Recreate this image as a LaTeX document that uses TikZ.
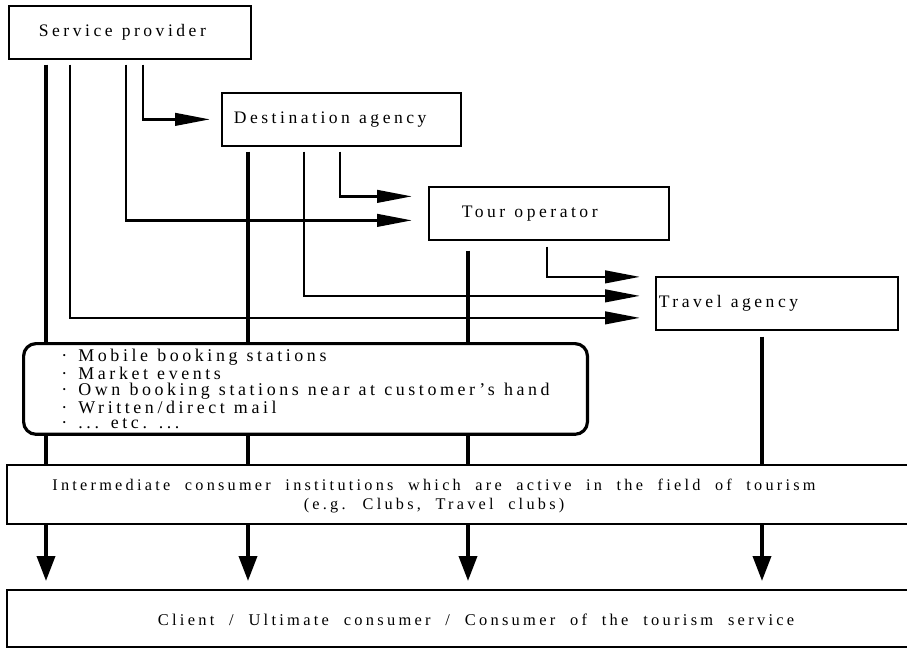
\documentclass[tikz,border=0pt]{standalone}
\usepackage{fontspec}
\setmainfont{Liberation Serif}[LetterSpace=20, WordSpace=2]
\usetikzlibrary{arrows.meta,backgrounds}

\tikzset{
  box/.style={draw, line width=1pt, fill=white, anchor=north west,
    minimum height=1.06cm, font=\fontsize{10}{12}\selectfont},
  listbox/.style={draw, line width=1.8pt, rounded corners=0.25cm, fill=white,
    anchor=north west, minimum width=11.28cm, minimum height=1.8cm,
    align=left, font=\fontsize{10.2}{8.6}\selectfont},
  widebox/.style={draw, line width=1pt, fill=white, anchor=north west,
    minimum width=18.2cm},
  flow/.style={line width=1.5pt, -{Triangle[length=0.7cm,width=0.25cm]},
    shorten <=0.1cm, shorten >=0.3cm},
  drop/.style={line width=2.1pt, -{Triangle[length=0.5cm,width=0.36cm]},
    shorten <=0.1cm, shorten >=0.16cm},
}
\newcommand{\dotitem}[1]{\makebox[0.34cm][l]{\textperiodcentered}{\spaceskip=5.2pt\relax #1}}
\newcommand{\boxtext}[2]{\makebox[#1][l]{\spaceskip=5.2pt\relax #2}}

\begin{document}
\begin{tikzpicture}[x=0.02cm, y=-0.02cm]
\useasboundingbox (0,0) rectangle (907,649);

% the four suppliers
\node[box, inner xsep=0.6cm] (sp) at (8,5) {\boxtext{3.64cm}{Service provider}};
\node[box, inner xsep=0.24cm] (da) at (221,92) {\boxtext{4.3cm}{Destination agency}};
\node[box, inner xsep=0.66cm] (to) at (428,186) {\boxtext{3.48cm}{Tour operator}};
\node[box, inner xsep=0.06cm] (ta) at (655,276) {\boxtext{4.72cm}{Travel agency}};

% direct channels
\node[listbox] (media) at (22,342) {%
  \dotitem{Mobile booking stations}\\
  \dotitem{Market events}\\
  \dotitem{Own booking stations near at customer's hand}\\
  \dotitem{Written/direct mail}\\
  \dotitem{... etc. ...}};

% consumers
\node[widebox, minimum height=1.18cm] (inter) at (6,464) {};
\node[align=center, font=\fontsize{9.25}{10.8}\selectfont] (intertext) at (434,496)
  {Intermediate consumer institutions which are active in the field of tourism\\
   (e.g. Clubs, Travel clubs)};
\node[widebox, minimum height=1.14cm] (client) at (6,589) {};
\node[font=\fontsize{9.35}{12}\selectfont] (clienttext) at (476,620)
  {Client / Ultimate consumer / Consumer of the tourism service};

% columns of the connectors
\coordinate (x1) at (46,0);
\coordinate (x2) at (70,0);
\coordinate (x3) at (126,0);
\coordinate (x4) at (143,0);
\coordinate (x5) at (248,0);
\coordinate (x6) at (304,0);
\coordinate (x7) at (340,0);
\coordinate (x8) at (468,0);
\coordinate (x9) at (547,0);
\coordinate (x10) at (762,0);

\begin{scope}[on background layer]
  % down to the client
  \draw[drop] (sp.south -| x1) -- (client.north -| x1);
  \draw[drop] (da.south -| x5) -- (client.north -| x5);
  \draw[drop, shorten <=0.2cm] (to.south -| x8) -- (client.north -| x8);
  \draw[drop, shorten <=0.12cm] (ta.south -| x10) -- (client.north -| x10);
  % along the chain
  \draw[flow, shorten >=0.22cm] (sp.south -| x4) |- (da.west);
  \draw[flow, shorten >=0.32cm] (sp.south -| x3) |- ([yshift=-0.14cm]to.west);
  \draw[flow] (sp.south -| x2) |- ([yshift=-0.29cm]ta.west);
  \draw[flow, shorten >=0.32cm] (da.south -| x7) |- ([yshift=0.34cm]to.west);
  \draw[flow] (da.south -| x6) |- ([yshift=0.15cm]ta.west);
  \draw[flow, shorten <=0.12cm] (to.south -| x9) |- ([yshift=0.53cm]ta.west);
\end{scope}
\end{tikzpicture}
\end{document}
